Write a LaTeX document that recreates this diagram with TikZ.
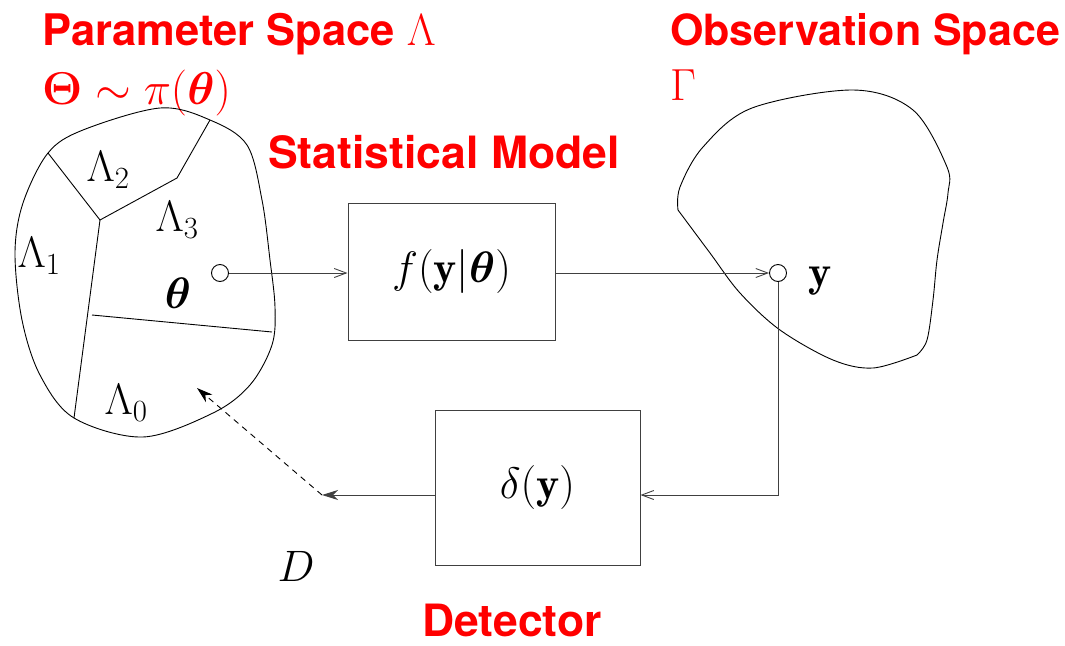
\RequirePackage{fix-cm}
\documentclass[tikz,border=0pt]{standalone}
\usepackage{bm}
\usepackage{fontspec}
\setsansfont{TeX Gyre Heros}
\usetikzlibrary{arrows.meta,calc}
\definecolor{titlered}{RGB}{255,0,0}
\begin{document}
\begin{tikzpicture}[x=1pt,y=-1pt,
  title/.style={text=titlered,font=\fontsize{43.5}{50}\selectfont\sffamily\bfseries,anchor=base west,inner sep=0pt},
  mathlbl/.style={font=\fontsize{44}{50}\selectfont,inner sep=0pt},
  region/.style={line width=0.9pt,black},
  blockbox/.style={draw=black!75,line width=1pt,minimum width=207pt,minimum height=137pt,inner sep=0pt,font=\fontsize{44}{50}\selectfont},
  conn/.style={draw=black!75,line width=1pt},
  openarrow/.style={-{Straight Barb[length=12pt,width=9pt,line width=0.9pt]}},
  solidarrow/.style={-{Stealth[length=16pt,width=10pt,inset=5pt]}},
  smallcirc/.style={circle,draw,line width=0.9pt,minimum size=17pt,inner sep=0pt}
]
\useasboundingbox (0,0) rectangle (1065,645);

% titles
\node[title] (ptitle) at (42,45) {Parameter Space \fontsize{45}{50}\selectfont$\Lambda$};
\node[title,font=\fontsize{46}{50}\selectfont\sffamily\bfseries] (prior) at (42,104) {$\bm{\Theta}\sim\pi(\bm{\theta})$};
\node[title,font=\fontsize{44.5}{50}\selectfont\sffamily\bfseries] (stitle) at (268,168) {Statistical Model};
\node[title,font=\fontsize{43}{50}\selectfont\sffamily\bfseries] (otitle) at (670,45) {Observation Space};
\node[title,font=\fontsize{45}{50}\selectfont\sffamily\bfseries] (gamma) at (670,100) {$\Gamma$};
\node[title,font=\fontsize{44.5}{50}\selectfont\sffamily\bfseries] (dtitle) at (422,636) {Detector};

% parameter space blob
\draw[region] plot[smooth cycle,tension=0.55] coordinates {
  (48,153) (83,130) (160,108) (210,120) (247,145) (262,200) (270,260)
  (275,307) (272,345) (250,385) (213,413) (143,437) (74,418) (40,375)
  (22,320) (15,253) (23,203)};
% partition lines
\coordinate (pA) at (48,153);
\coordinate (pB) at (100,220);
\coordinate (pC) at (177,178);
\coordinate (pD) at (210,120);
\coordinate (pE) at (74,418);
\coordinate (pF) at (92,315);
\coordinate (pG) at (272,332);
\draw[region] (pA) -- (pB) -- (pC) -- (pD);
\draw[region] (pB) -- (pE);
\draw[region] (pF) -- (pG);

\node[mathlbl] (L2) at (108,170) {$\Lambda_2$};
\node[mathlbl] (L3) at (177,220) {$\Lambda_3$};
\node[mathlbl] (L1) at (39,256) {$\Lambda_1$};
\node[mathlbl] (th) at (178,293) {$\bm{\theta}$};
\node[mathlbl] (L0) at (126,403) {$\Lambda_0$};

% observation space blob
\draw[region] plot[smooth,tension=0.55] coordinates {
  (678,210) (680,187) (703,147) (752,108) (853,90) (913,110) (947,167) (948,193) (943,223) (937,260) (933,300) (927,340) (917,355)};
\draw[region] plot[smooth,tension=0.55] coordinates {
  (917,355) (873,368) (833,360) (780,330) (740,293) (710,253) (678,210)};

% points
\node[smallcirc] (thc) at (220,273) {};
\node[smallcirc] (yc) at (778,273) {};
\node[mathlbl] (ylbl) at (820,281) {$\mathbf{y}$};

% blocks
\node[blockbox] (model) at (451.5,271.5) {$f(\mathbf{y}|\bm{\theta})$};
\node[blockbox,minimum width=205pt,minimum height=155pt] (det) at (537.5,487.5) {$\delta(\mathbf{y})$};

% connectors
\draw[conn,openarrow] (thc.east) -- (thc.east -| model.west);
\draw[conn,openarrow] (thc.east -| model.east) -- (yc.west);
\coordinate (corner) at (778,495);
\draw[conn,openarrow] (yc.south) -- (corner) -- (corner -| det.east);
\coordinate (dpt) at (322,495);
\coordinate (dtip) at (197,388);
\draw[conn,solidarrow] (corner -| det.west) -- (dpt);
\draw[line width=0.9pt,dash pattern=on 6pt off 5pt,solidarrow] (dpt) -- (dtip);
\node[mathlbl] (Dlbl) at (296,566) {$D$};
\end{tikzpicture}
\end{document}
